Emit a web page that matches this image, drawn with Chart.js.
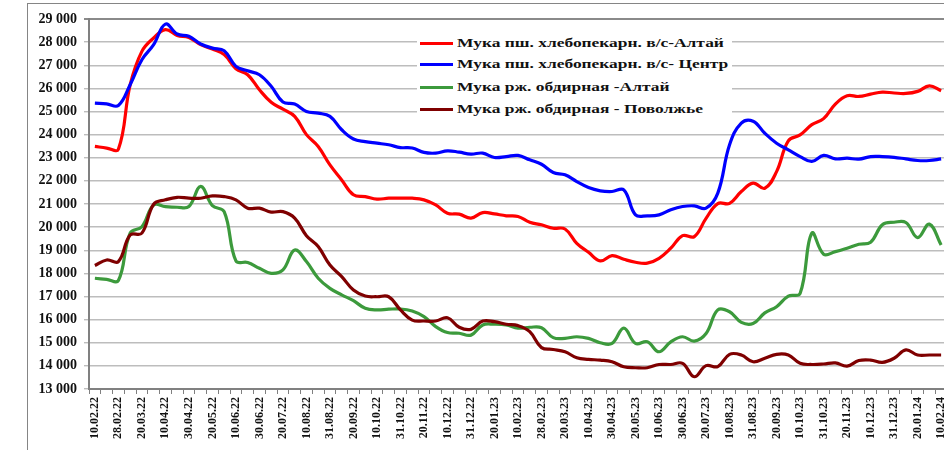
<!DOCTYPE html>
<html>
<head>
<meta charset="utf-8">
<script src="https://cdn.jsdelivr.net/npm/chart.js@4/dist/chart.umd.min.js"></script>
<style>
  html, body { margin: 0; padding: 0; background: #fff; overflow: hidden; width: 944px; height: 450px; }
  #wrap { position: absolute; left: 0; top: 0; width: 960px; height: 450px; }
  #frame { position: absolute; left: 27px; top: 3px; width: 1000px; height: 500px; border-left: 1.5px solid #858585; border-top: 1.5px solid #858585; box-sizing: border-box; pointer-events: none; }
  #legend { position: absolute; left: 417px; top: 31px; width: 315px; height: 88px; background: #fff; font-family: "Liberation Serif", "Times New Roman", serif; font-weight: bold; font-size: 13.5px; color: #111; }
  .row { position: absolute; left: 3px; height: 20px; display: flex; align-items: center; white-space: nowrap; }
  .sw { width: 33px; height: 3px; margin-right: 4px; flex: none; }
  .tx { display: inline-block; transform: scaleX(1.29); transform-origin: left center; }
</style>
</head>
<body>
<div id="wrap"><canvas id="c"></canvas></div>
<div id="frame"></div>
<div id="legend"></div>
<script>
const dates = [
  "10.02.22","20.02.22","28.02.22","10.03.22","20.03.22","31.03.22","10.04.22","20.04.22","30.04.22",
  "10.05.22","20.05.22","31.05.22","10.06.22","20.06.22","30.06.22","10.07.22","20.07.22","31.07.22",
  "10.08.22","20.08.22","31.08.22","10.09.22","20.09.22","30.09.22","10.10.22","20.10.22","31.10.22",
  "10.11.22","20.11.22","30.11.22","10.12.22","20.12.22","31.12.22","10.01.23","20.01.23","31.01.23",
  "10.02.23","20.02.23","28.02.23","10.03.23","20.03.23","31.03.23","10.04.23","20.04.23","30.04.23",
  "10.05.23","20.05.23","31.05.23","10.06.23","20.06.23","30.06.23","10.07.23","20.07.23","31.07.23",
  "10.08.23","20.08.23","31.08.23","10.09.23","20.09.23","30.09.23","10.10.23","20.10.23","31.10.23",
  "10.11.23","20.11.23","30.11.23","10.12.23","20.12.23","31.12.23","10.01.24","20.01.24","31.01.24",
  "10.02.24"
];

const seriesNames = [
  "Мука пш. хлебопекарн. в/с-Алтай",
  "Мука пш. хлебопекарн. в/с- Центр",
  "Мука рж. обдирная -Алтай",
  "Мука рж. обдирная - Поволжье"
];

const wheatAltai = [
  23490,23420,23370,26150,27600,28180,28540,28290,28200,27890,27700,27460,26850,26590,25940,25400,25100,24790,
  24000,23490,22690,22040,21400,21320,21210,21250,21250,21250,21180,20960,20600,20560,20390,20630,20570,20490,
  20460,20210,20100,19950,19920,19300,18910,18540,18770,18610,18480,18440,18650,19090,19630,19590,20380,21020,
  21030,21540,21900,21680,22400,23730,23990,24430,24690,25320,25680,25650,25750,25840,25800,25780,25870,26110,
  25900
];

const wheatCenter = [
  25360,25330,25260,26160,27240,27890,28780,28350,28250,27920,27740,27630,26950,26760,26590,26090,25410,25320,
  25000,24930,24790,24210,23810,23700,23630,23560,23440,23420,23230,23200,23300,23240,23160,23200,23010,23050,
  23100,22910,22720,22360,22260,21970,21710,21570,21540,21610,20530,20490,20530,20750,20890,20920,20820,21470,
  23560,24500,24580,24060,23630,23340,23050,22840,23100,22950,22980,22940,23050,23050,23020,22950,22880,22880,
  22950
];

const ryeAltai = [
  17790,17740,17690,19740,20020,20960,20890,20860,20890,21760,20930,20670,18540,18470,18220,18000,18150,19010,
  18510,17790,17350,17070,16820,16490,16420,16450,16460,16370,16130,15700,15440,15410,15330,15770,15800,15770,
  15630,15670,15650,15220,15190,15260,15190,15000,14970,15630,14970,15040,14610,15040,15260,15070,15400,16420,
  16340,15880,15830,16290,16560,17020,17130,19740,18830,18940,19090,19260,19350,20100,20210,20200,19550,20130,
  19230
];

const ryeVolga = [
  18340,18580,18510,19660,19740,20990,21180,21290,21250,21250,21350,21320,21180,20820,20820,20650,20670,20390,
  19630,19160,18360,17860,17280,17020,16990,16990,16420,15980,15940,15940,16080,15670,15580,15940,15910,15800,
  15740,15480,14790,14710,14610,14350,14280,14250,14180,13960,13920,13920,14060,14060,14110,13530,14010,13970,
  14500,14470,14180,14330,14500,14470,14110,14060,14080,14130,13990,14230,14250,14150,14330,14690,14470,14470,
  14470
];

const yTicks = [13000,14000,15000,16000,17000,18000,19000,20000,21000,22000,23000,24000,25000,26000,27000,28000,29000];

const colors = ["#ff0000", "#0000ff", "#3c9a3c", "#7f0000"];
const seriesData = [wheatAltai, wheatCenter, ryeAltai, ryeVolga];
const drawOrder = [4, 3, 2, 1];

const fmt = v => String(v).replace(/\B(?=(\d{3})+(?!\d))/g, " ");

const datasets = seriesData.map((d, i) => ({
  label: seriesNames[i],
  data: d,
  borderColor: colors[i],
  backgroundColor: colors[i],
  borderWidth: 3.2,
  pointRadius: 0,
  tension: 0.4,
  fill: false,
  order: drawOrder[i]
}));

const PLOT_LEFT = 89, PLOT_TOP = 19, PLOT_BOTTOM = 389;

new Chart(document.getElementById("c"), {
  type: "line",
  data: { labels: dates, datasets },
  options: {
    responsive: true,
    maintainAspectRatio: false,
    animation: false,
    layout: { padding: { left: 0, top: PLOT_TOP, right: 13, bottom: 0 } },
    plugins: { legend: { display: false }, tooltip: { enabled: false } },
    scales: {
      x: {
        type: "category",
        offset: true,
        grid: { display: true, drawOnChartArea: false, drawTicks: true, tickLength: 5, color: "#808080", lineWidth: 1, offset: true },
        border: { display: true, color: "#808080", width: 2 },
        ticks: {
          autoSkip: false,
          minRotation: 90,
          maxRotation: 90,
          padding: 3,
          color: "#111",
          font: { family: "'Liberation Serif', 'Times New Roman', serif", weight: "bold", size: 12 },
          callback: function (val, idx) { return idx % 2 === 0 ? this.getLabelForValue(val) : ""; }
        },
        afterFit: s => { s.height = 450 - PLOT_BOTTOM; }
      },
      y: {
        min: 13000,
        max: 29000,
        afterBuildTicks: s => { s.ticks = yTicks.map(v => ({ value: v })); },
        grid: {
          color: ctx => (ctx.tick && ctx.tick.value === 29000) ? "#8a8a8a" : "#bdbdbd",
          lineWidth: ctx => (ctx.tick && ctx.tick.value === 29000) ? 2 : 1.4,
          drawTicks: true,
          tickLength: 5
        },
        border: { display: true, color: "#808080", width: 2 },
        ticks: {
          padding: 7,
          color: "#111",
          font: { family: "'Liberation Serif', 'Times New Roman', serif", weight: "bold", size: 14 },
          callback: v => fmt(v)
        },
        afterFit: s => { s.width = PLOT_LEFT; }
      }
    }
  }
});

// HTML legend built from the dataset names/colours
const leg = document.getElementById("legend");
const rowTops = [2, 23, 46, 68];
seriesNames.forEach((n, i) => {
  const r = document.createElement("div");
  r.className = "row";
  r.style.top = rowTops[i] + "px";
  const sw = document.createElement("span");
  sw.className = "sw";
  sw.style.background = colors[i];
  const tx = document.createElement("span");
  tx.className = "tx";
  tx.textContent = n;
  r.appendChild(sw);
  r.appendChild(tx);
  leg.appendChild(r);
});
</script>
</body>
</html>
